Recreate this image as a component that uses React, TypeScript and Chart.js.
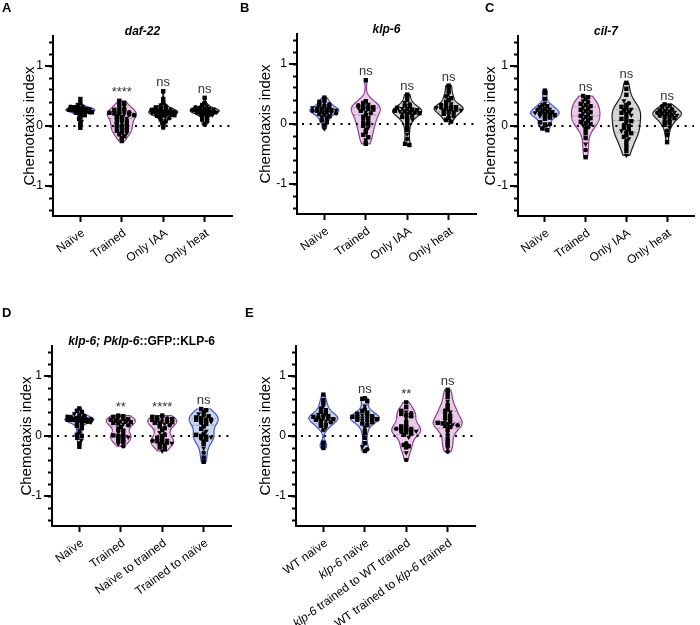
import React, { useEffect, useRef } from 'react';
import { Chart, registerables } from 'chart.js';

Chart.register(...registerables);

const FONT = '"Liberation Sans", Arial, Helvetica, sans-serif';

// ---- Chemotaxis index per animal group ----
// daf-22
const daf22Naive = [0.45, 0.38, 0.35, 0.33, 0.32, 0.31, 0.31, 0.30, 0.30, 0.29, 0.29, 0.28, 0.28, 0.28, 0.27, 0.27, 0.27, 0.26, 0.26, 0.26, 0.25, 0.25, 0.25, 0.24, 0.24, 0.23, 0.23, 0.22, 0.21, 0.20, 0.18, 0.15, 0.12, 0.08, 0.05, 0.02, -0.03];
const daf22Trained = [0.42, 0.38, 0.35, 0.33, 0.30, 0.28, 0.27, 0.25, 0.24, 0.23, 0.22, 0.21, 0.20, 0.20, 0.19, 0.18, 0.17, 0.15, 0.13, 0.12, 0.10, 0.08, 0.07, 0.05, 0.03, 0.02, 0.00, -0.02, -0.04, -0.05, -0.07, -0.08, -0.10, -0.12, -0.14, -0.17, -0.20, -0.25];
const daf22OnlyIAA = [0.58, 0.45, 0.38, 0.35, 0.33, 0.31, 0.30, 0.29, 0.28, 0.27, 0.27, 0.26, 0.25, 0.25, 0.24, 0.24, 0.23, 0.23, 0.22, 0.22, 0.21, 0.21, 0.20, 0.20, 0.19, 0.18, 0.17, 0.16, 0.15, 0.13, 0.11, 0.08, 0.05, 0.02, -0.03];
const daf22OnlyHeat = [0.47, 0.38, 0.35, 0.33, 0.31, 0.30, 0.29, 0.28, 0.28, 0.27, 0.27, 0.26, 0.26, 0.25, 0.25, 0.24, 0.24, 0.23, 0.23, 0.22, 0.21, 0.20, 0.19, 0.18, 0.16, 0.14, 0.11, 0.08, 0.05, 0.02];
// klp-6
const klp6Naive = [0.44, 0.40, 0.37, 0.35, 0.33, 0.31, 0.30, 0.28, 0.27, 0.26, 0.25, 0.24, 0.23, 0.23, 0.22, 0.22, 0.21, 0.20, 0.19, 0.18, 0.17, 0.15, 0.13, 0.11, 0.09, 0.06, 0.03, -0.02, -0.08];
const klp6Trained = [0.73, 0.38, 0.35, 0.33, 0.31, 0.30, 0.29, 0.28, 0.27, 0.26, 0.25, 0.24, 0.22, 0.20, 0.18, 0.15, 0.12, 0.10, 0.06, 0.04, 0.02, 0.00, -0.03, -0.06, -0.10, -0.14, -0.18, -0.22, -0.26, -0.30, -0.33];
const klp6OnlyIAA = [0.49, 0.47, 0.40, 0.36, 0.33, 0.31, 0.29, 0.27, 0.26, 0.25, 0.24, 0.23, 0.22, 0.21, 0.21, 0.20, 0.19, 0.18, 0.17, 0.16, 0.14, 0.12, 0.10, 0.08, 0.05, 0.02, -0.04, -0.10, -0.17, -0.25, -0.33, -0.35];
const klp6OnlyHeat = [0.64, 0.62, 0.55, 0.50, 0.46, 0.43, 0.40, 0.37, 0.34, 0.32, 0.30, 0.29, 0.28, 0.27, 0.27, 0.26, 0.25, 0.24, 0.23, 0.22, 0.21, 0.19, 0.17, 0.15, 0.13, 0.10, 0.07, 0.04];
// cil-7
const cil7Naive = [0.59, 0.55, 0.45, 0.38, 0.35, 0.33, 0.31, 0.29, 0.28, 0.27, 0.25, 0.24, 0.23, 0.22, 0.21, 0.20, 0.19, 0.18, 0.17, 0.16, 0.14, 0.12, 0.06, 0.04, 0.03, 0.01, -0.04, -0.07];
const cil7Trained = [0.50, 0.48, 0.45, 0.42, 0.40, 0.37, 0.35, 0.33, 0.31, 0.29, 0.27, 0.25, 0.23, 0.21, 0.19, 0.17, 0.15, 0.13, 0.11, 0.09, 0.07, 0.05, 0.03, 0.01, -0.02, -0.05, -0.12, -0.20, -0.30, -0.40, -0.52];
const cil7OnlyIAA = [0.72, 0.62, 0.52, 0.42, 0.38, 0.35, 0.32, 0.30, 0.28, 0.26, 0.24, 0.22, 0.20, 0.18, 0.15, 0.12, 0.10, 0.08, 0.05, 0.02, 0.00, -0.03, -0.06, -0.08, -0.10, -0.12, -0.15, -0.18, -0.21, -0.25, -0.30, -0.36, -0.42, -0.49];
const cil7OnlyHeat = [0.36, 0.34, 0.32, 0.30, 0.28, 0.26, 0.25, 0.24, 0.23, 0.22, 0.21, 0.20, 0.19, 0.18, 0.17, 0.16, 0.15, 0.13, 0.11, 0.09, 0.07, 0.05, 0.02, -0.02, -0.08, -0.15, -0.27];
// klp-6; Pklp-6::GFP::KLP-6
const rescueNaive = [0.46, 0.42, 0.40, 0.37, 0.35, 0.33, 0.32, 0.31, 0.30, 0.30, 0.29, 0.29, 0.28, 0.28, 0.28, 0.27, 0.27, 0.27, 0.26, 0.26, 0.25, 0.25, 0.24, 0.23, 0.22, 0.20, 0.17, 0.13, 0.10, 0.06, 0.02, 0.00, -0.03, -0.07, -0.12, -0.18];
const rescueTrained = [0.34, 0.33, 0.32, 0.30, 0.29, 0.28, 0.27, 0.26, 0.25, 0.24, 0.23, 0.22, 0.21, 0.20, 0.18, 0.15, 0.12, 0.09, 0.06, 0.03, 0.01, 0.00, -0.01, -0.02, -0.04, -0.06, -0.08, -0.10, -0.13, -0.17];
const rescueNaiveToTrained = [0.34, 0.32, 0.31, 0.30, 0.29, 0.28, 0.27, 0.26, 0.25, 0.24, 0.23, 0.22, 0.21, 0.20, 0.18, 0.16, 0.13, 0.10, 0.06, 0.03, 0.00, -0.03, -0.05, -0.07, -0.08, -0.09, -0.10, -0.11, -0.12, -0.14, -0.16, -0.19, -0.22, -0.25];
const rescueTrainedToNaive = [0.45, 0.43, 0.40, 0.37, 0.35, 0.33, 0.31, 0.30, 0.29, 0.28, 0.27, 0.26, 0.25, 0.24, 0.22, 0.20, 0.16, 0.12, 0.08, 0.04, 0.02, 0.00, -0.01, -0.02, -0.04, -0.06, -0.09, -0.13, -0.20, -0.28, -0.36, -0.43];
// grafting experiment
const wtNaive = [0.69, 0.60, 0.55, 0.50, 0.46, 0.43, 0.40, 0.38, 0.36, 0.34, 0.33, 0.32, 0.31, 0.30, 0.29, 0.28, 0.27, 0.26, 0.25, 0.23, 0.21, 0.19, 0.17, 0.14, 0.10, -0.11, -0.16, -0.20];
const klp6NaiveE = [0.63, 0.62, 0.58, 0.50, 0.45, 0.42, 0.39, 0.37, 0.35, 0.34, 0.33, 0.32, 0.31, 0.30, 0.30, 0.29, 0.28, 0.27, 0.26, 0.25, 0.23, 0.21, 0.18, 0.15, 0.10, 0.05, -0.03, -0.12, -0.18, -0.22, -0.25];
const klp6TrainedToWT = [0.56, 0.48, 0.42, 0.40, 0.38, 0.37, 0.35, 0.33, 0.30, 0.25, 0.20, 0.16, 0.14, 0.13, 0.12, 0.11, 0.10, 0.09, 0.08, 0.07, 0.06, 0.04, 0.02, -0.02, -0.12, -0.15, -0.17, -0.19, -0.28, -0.40];
const wtTrainedToKlp6 = [0.77, 0.72, 0.65, 0.58, 0.53, 0.48, 0.45, 0.42, 0.40, 0.37, 0.34, 0.31, 0.28, 0.26, 0.24, 0.22, 0.21, 0.20, 0.19, 0.18, 0.17, 0.15, 0.12, 0.06, 0.02, -0.05, -0.10, -0.15, -0.20, -0.26];

// significance vs. naïve
const sigA = ['', '****', 'ns', 'ns'];
const sigB = ['', 'ns', 'ns', 'ns'];
const sigC = ['', 'ns', 'ns', 'ns'];
const sigD = ['', '**', '****', 'ns'];
const sigE = ['', 'ns', '**', 'ns'];

type Seg = { t: string; i?: boolean };
const catsABC: Seg[][] = [[{ t: 'Naïve' }], [{ t: 'Trained' }], [{ t: 'Only IAA' }], [{ t: 'Only heat' }]];
const catsD: Seg[][] = [[{ t: 'Naïve' }], [{ t: 'Trained' }], [{ t: 'Naïve to trained' }], [{ t: 'Trained to naïve' }]];
const catsE: Seg[][] = [
  [{ t: 'WT naïve' }],
  [{ t: 'klp-6', i: true }, { t: ' naïve' }],
  [{ t: 'klp-6', i: true }, { t: ' trained to WT trained' }],
  [{ t: 'WT trained to ' }, { t: 'klp-6', i: true }, { t: ' trained' }],
];

// y ticks every 0.2, labelled at integers
const yTickValues = Array.from({ length: 15 }, (_, k) => Math.round((k - 7) * 2) / 10);
const yLabelled = [-1, 0, 1];

const BLUE = { fill: 'rgba(196,211,242,0.92)', stroke: '#4657bd' };
const PINK = { fill: 'rgba(232,196,231,0.92)', stroke: '#8e3f93' };
const GRAY = { fill: 'rgba(210,210,210,0.92)', stroke: '#1c1c1c' };

type PanelCfg = {
  letter: string; lx: number; ly: number;
  axisX: number; top: number; rightPad: number; titleDX: number;
  title: Seg[] | null;
  groups: number[][]; colors: { fill: string; stroke: string }[];
  sig: string[]; cats: Seg[][];
};

const panels: PanelCfg[] = [
  { letter: 'A', lx: 2, ly: 1, axisX: 52.5, top: 35.7, rightPad: 3, titleDX: 23.5, title: [{ t: 'daf-22', i: true }],
    groups: [daf22Naive, daf22Trained, daf22OnlyIAA, daf22OnlyHeat], colors: [BLUE, PINK, GRAY, GRAY], sig: sigA, cats: catsABC },
  { letter: 'B', lx: 240, ly: 1, axisX: 296.7, top: 34.3, rightPad: 3, titleDX: 31, title: [{ t: 'klp-6', i: true }],
    groups: [klp6Naive, klp6Trained, klp6OnlyIAA, klp6OnlyHeat], colors: [BLUE, PINK, GRAY, GRAY], sig: sigB, cats: catsABC },
  { letter: 'C', lx: 485, ly: 1, axisX: 518.3, top: 35.7, rightPad: 0, titleDX: 27.5, title: [{ t: 'cil-7', i: true }],
    groups: [cil7Naive, cil7Trained, cil7OnlyIAA, cil7OnlyHeat], colors: [BLUE, PINK, GRAY, GRAY], sig: sigC, cats: catsABC },
  { letter: 'D', lx: 2, ly: 306, axisX: 52.3, top: 346, rightPad: 3, titleDX: 25.6,
    title: [{ t: 'klp-6; Pklp-6', i: true }, { t: '::GFP::KLP-6' }],
    groups: [rescueNaive, rescueTrained, rescueNaiveToTrained, rescueTrainedToNaive], colors: [BLUE, PINK, PINK, BLUE], sig: sigD, cats: catsD },
  { letter: 'E', lx: 245, ly: 306, axisX: 295.5, top: 345.7, rightPad: 3, titleDX: 30, title: null,
    groups: [wtNaive, klp6NaiveE, klp6TrainedToWT, wtTrainedToKlp6], colors: [BLUE, BLUE, PINK, PINK], sig: sigE, cats: catsE },
];

// canvas frame around each plot area
const LEFT = 60;
const TOP = 45;
const PLOT_W = 180;
const PLOT_H = 180;
const BOTTOM = 100;
const X_MIN = -0.66;
const X_MAX = 3.66;
const HALF_W = 0.35; // max violin half-width in category units
const LABEL_ROT = 36; // degrees

type Profile = { ys: number[]; ws: number[]; q1: number; med: number; q3: number };

function quantile(s: number[], p: number) {
  const idx = (s.length - 1) * p;
  const lo = Math.floor(idx);
  const hi = Math.ceil(idx);
  return s[lo] + (s[hi] - s[lo]) * (idx - lo);
}

function violinProfile(vals: number[]): Profile {
  const s = [...vals].sort((a, b) => a - b);
  const n = s.length;
  const mean = s.reduce((a, b) => a + b, 0) / n;
  const sd = Math.sqrt(s.reduce((a, b) => a + (b - mean) ** 2, 0) / (n - 1));
  const q1 = quantile(s, 0.25);
  const q3 = quantile(s, 0.75);
  const spread = Math.min(sd, (q3 - q1) / 1.34) || sd;
  const h = 0.85 * spread * Math.pow(n, -0.2);
  const lo = s[0];
  const hi = s[n - 1];
  const steps = 120;
  const ys: number[] = [];
  const ds: number[] = [];
  for (let i = 0; i <= steps; i++) {
    const y = lo + ((hi - lo) * i) / steps;
    let d = 0;
    for (const v of s) d += Math.exp(-0.5 * ((y - v) / h) ** 2);
    ys.push(y);
    ds.push(d);
  }
  const maxD = Math.max(...ds);
  return { ys, ws: ds.map((d) => (HALF_W * d) / maxD), q1, med: quantile(s, 0.5), q3 };
}

function widthAt(p: Profile, y: number) {
  const { ys, ws } = p;
  if (y <= ys[0]) return ws[0];
  if (y >= ys[ys.length - 1]) return ws[ws.length - 1];
  const step = (ys[ys.length - 1] - ys[0]) / (ys.length - 1);
  const i = Math.min(Math.floor((y - ys[0]) / step), ys.length - 2);
  const t = (y - ys[i]) / step;
  return ws[i] * (1 - t) + ws[i + 1] * t;
}

// horizontal offsets that spread points of similar value across the violin
function swarmOffsets(vals: number[], p: Profile) {
  const BIN = 0.05;
  const SP = 0.12;
  const bins = new Map<number, number[]>();
  vals.forEach((v, k) => {
    const b = Math.round(v / BIN);
    if (!bins.has(b)) bins.set(b, []);
    bins.get(b)!.push(k);
  });
  const offs = new Array(vals.length).fill(0);
  bins.forEach((idx) => {
    const n = idx.length;
    if (n < 2) return;
    const yMid = idx.reduce((a, k) => a + vals[k], 0) / n;
    const avail = Math.max(widthAt(p, yMid) * 0.85, 0.02);
    const sp = Math.min(SP, (2 * avail) / (n - 1));
    idx.forEach((k, j) => {
      offs[k] = (j - (n - 1) / 2) * sp;
    });
  });
  return offs;
}

function markerStyle(k: number) {
  const m = k % 5;
  if (m === 3) return { style: 'triangle', r: 2.9, rot: 180 };
  if (m === 4) return { style: 'circle', r: 2.3, rot: 0 };
  return { style: 'rect', r: 3.1, rot: 0 };
}

function segFont(seg: Seg, size: number, bold: boolean) {
  return `${seg.i ? 'italic ' : ''}${bold ? 'bold ' : ''}${size}px ${FONT}`;
}

function drawSegments(ctx: CanvasRenderingContext2D, segs: Seg[], x: number, y: number, size: number, bold: boolean, align: 'center' | 'right') {
  let total = 0;
  const widths = segs.map((s) => {
    ctx.font = segFont(s, size, bold);
    const w = ctx.measureText(s.t).width;
    total += w;
    return w;
  });
  let cx = align === 'center' ? x - total / 2 : x - total;
  ctx.textAlign = 'left';
  segs.forEach((s, i) => {
    ctx.font = segFont(s, size, bold);
    ctx.fillText(s.t, cx, y);
    cx += widths[i];
  });
}

function buildChart(canvas: HTMLCanvasElement, cfg: PanelCfg) {
  const profiles = cfg.groups.map(violinProfile);

  const datasets = cfg.groups.map((vals, gi) => {
    const offs = swarmOffsets(vals, profiles[gi]);
    const marks = vals.map((_, k) => markerStyle(k));
    return {
      label: `group ${gi}`,
      data: vals.map((v, k) => ({ x: gi + offs[k], y: v })),
      pointStyle: marks.map((m) => m.style),
      pointRadius: marks.map((m) => m.r),
      pointRotation: marks.map((m) => m.rot),
      backgroundColor: '#000',
      borderColor: '#000',
      borderWidth: 0,
    };
  });

  const violinPlugin = {
    id: 'violins',
    beforeDatasetsDraw(chart: any) {
      const { ctx } = chart;
      const xs = chart.scales.x;
      const ys = chart.scales.y;
      ctx.save();
      profiles.forEach((p, gi) => {
        const col = cfg.colors[gi];
        ctx.beginPath();
        p.ys.forEach((y, i) => {
          const px = xs.getPixelForValue(gi + p.ws[i]);
          const py = ys.getPixelForValue(y);
          if (i === 0) ctx.moveTo(px, py);
          else ctx.lineTo(px, py);
        });
        for (let i = p.ys.length - 1; i >= 0; i--) {
          ctx.lineTo(xs.getPixelForValue(gi - p.ws[i]), ys.getPixelForValue(p.ys[i]));
        }
        ctx.closePath();
        ctx.fillStyle = col.fill;
        ctx.fill();
        ctx.lineWidth = 1.2;
        ctx.strokeStyle = col.stroke;
        ctx.lineJoin = 'round';
        ctx.stroke();

        // median (dashed) and quartiles (dotted)
        ctx.lineWidth = 0.8;
        ctx.strokeStyle = 'rgba(90,90,90,0.7)';
        [[p.med, [3, 2]], [p.q1, [1.2, 1.6]], [p.q3, [1.2, 1.6]]].forEach(([v, dash]: any) => {
          const w = widthAt(p, v);
          ctx.setLineDash(dash);
          ctx.beginPath();
          ctx.moveTo(xs.getPixelForValue(gi - w), ys.getPixelForValue(v));
          ctx.lineTo(xs.getPixelForValue(gi + w), ys.getPixelForValue(v));
          ctx.stroke();
        });
        ctx.setLineDash([]);
      });

      // dotted zero reference line
      const y0 = ys.getPixelForValue(0);
      ctx.beginPath();
      ctx.setLineDash([2, 5.7]);
      ctx.lineWidth = 2;
      ctx.strokeStyle = '#000';
      ctx.moveTo(chart.chartArea.left + 5, y0);
      ctx.lineTo(chart.chartArea.right, y0);
      ctx.stroke();
      ctx.restore();
    },
    afterDraw(chart: any) {
      const { ctx, chartArea } = chart;
      const xs = chart.scales.x;
      const ys = chart.scales.y;
      ctx.save();
      ctx.fillStyle = '#000';

      // longer marks for labelled y ticks
      ctx.strokeStyle = '#000';
      ctx.lineWidth = 2;
      yLabelled.forEach((v) => {
        const py = Math.round(ys.getPixelForValue(v));
        ctx.beginPath();
        ctx.moveTo(chartArea.left - 8, py);
        ctx.lineTo(chartArea.left, py);
        ctx.stroke();
      });

      // panel title
      if (cfg.title) {
        ctx.textBaseline = 'middle';
        drawSegments(ctx, cfg.title, (chartArea.left + chartArea.right) / 2, chartArea.top - 4, 12, true, 'center');
      }

      // significance marks
      ctx.fillStyle = '#333';
      ctx.textBaseline = 'alphabetic';
      ctx.textAlign = 'center';
      ctx.font = `13px ${FONT}`;
      cfg.sig.forEach((s, gi) => {
        if (!s) return;
        const mx = Math.max(...cfg.groups[gi]);
        ctx.fillText(s, xs.getPixelForValue(gi), ys.getPixelForValue(mx + 0.08));
      });

      // rotated category labels
      ctx.fillStyle = '#000';
      ctx.textBaseline = 'middle';
      cfg.cats.forEach((segs, i) => {
        const px = xs.getPixelForValue(i);
        ctx.save();
        ctx.translate(px + 3, chartArea.bottom + 16);
        ctx.rotate((-LABEL_ROT * Math.PI) / 180);
        drawSegments(ctx, segs, 0, 0, 12, false, 'right');
        ctx.restore();
      });
      ctx.restore();
    },
  };

  return new Chart(canvas, {
    type: 'scatter',
    data: { datasets } as any,
    options: {
      responsive: false,
      animation: false,
      events: [],
      layout: { padding: { left: 0, top: TOP, right: cfg.rightPad, bottom: BOTTOM - 6 } },
      scales: {
        x: {
          type: 'linear',
          min: X_MIN,
          max: X_MAX,
          afterBuildTicks: (s: any) => {
            s.ticks = cfg.cats.map((_, i) => ({ value: i }));
          },
          afterFit: (s: any) => {
            s.height = 6;
          },
          grid: { drawOnChartArea: false, drawTicks: true, tickLength: 6, tickWidth: 2, tickColor: '#000' },
          border: { display: true, color: '#000', width: 2 },
          ticks: { display: false },
        },
        y: {
          type: 'linear',
          min: -1.5,
          max: 1.5,
          afterBuildTicks: (s: any) => {
            s.ticks = yTickValues.map((v) => ({ value: v }));
          },
          afterFit: (s: any) => {
            s.width = LEFT;
          },
          grid: { drawOnChartArea: false, drawTicks: true, tickLength: 4, tickWidth: 2, tickColor: '#000' },
          border: { display: true, color: '#000', width: 2 },
          ticks: {
            autoSkip: false,
            padding: 6,
            color: '#000',
            font: { family: FONT, size: 12 },
            callback: (v: any) => (yLabelled.includes(Number(v)) ? String(v) : ''),
          },
          title: {
            display: true,
            text: 'Chemotaxis index',
            color: '#000',
            font: { family: FONT, size: 15 },
            padding: { top: 51 - cfg.titleDX, bottom: 0 },
          },
        },
      },
      plugins: { legend: { display: false }, tooltip: { enabled: false }, title: { display: false } },
    } as any,
    plugins: [violinPlugin],
  });
}

function Panel({ cfg }: { cfg: PanelCfg }) {
  const ref = useRef<HTMLCanvasElement>(null);
  const w = LEFT + PLOT_W + cfg.rightPad;
  const h = TOP + PLOT_H + BOTTOM;
  useEffect(() => {
    const chart = buildChart(ref.current!, cfg);
    return () => chart.destroy();
  }, [cfg]);
  return (
    <>
      <canvas
        ref={ref}
        width={w}
        height={h}
        style={{ position: 'absolute', left: cfg.axisX - LEFT, top: cfg.top - TOP, width: w, height: h }}
      />
      <div
        style={{
          position: 'absolute',
          left: cfg.lx,
          top: cfg.ly,
          font: `bold 13px ${FONT}`,
          lineHeight: '13px',
          color: '#000',
        }}
      >
        {cfg.letter}
      </div>
    </>
  );
}

export default function App() {
  return (
    <div
      style={{
        position: 'absolute',
        left: 0,
        top: 0,
        width: 700,
        height: 625,
        overflow: 'hidden',
        background: '#fff',
      }}
    >
      {panels.map((p) => (
        <Panel key={p.letter} cfg={p} />
      ))}
    </div>
  );
}
